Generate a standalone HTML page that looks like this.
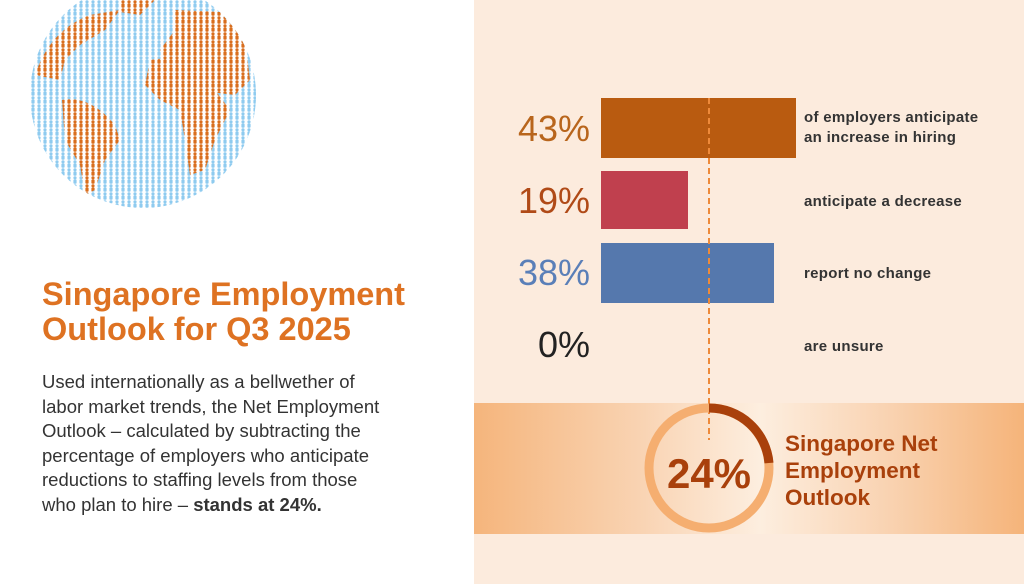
<!DOCTYPE html>
<html><head><meta charset="utf-8"><style>
*{margin:0;padding:0;box-sizing:border-box}
body{width:1024px;height:584px;position:relative;overflow:hidden;font-family:"Liberation Sans",Arial,sans-serif;background:#fff}
.right{position:absolute;left:474px;top:0;width:550px;height:584px;background:#fcebdd}
.band{position:absolute;left:474px;top:403px;width:550px;height:131px;background:linear-gradient(90deg,#f5b57c 0%,#f9d3b2 30%,#fdeedf 52%,#f9d3b2 75%,#f5b47a 100%)}
.title{position:absolute;left:42px;top:277px;font-size:32.5px;font-weight:bold;color:#de7222;line-height:35px}
.body{position:absolute;left:42px;top:370px;font-size:18.5px;color:#333;line-height:24.6px}
.pct{position:absolute;width:200px;right:434px;text-align:right;font-size:36px}
.bar{position:absolute;left:601px}
.lab{position:absolute;left:804px;font-size:15px;font-weight:bold;color:#333;line-height:20px;letter-spacing:0.3px}
</style></head><body>
<svg style="position:absolute;left:0;top:0" width="474" height="230">
<defs>
<pattern id="pb" width="6" height="8" patternUnits="userSpaceOnUse"><circle cx="3" cy="1.8" r="1.6" fill="#8fcbef"/><rect x="1.4" y="3.4" width="3.2" height="4.4" rx="1" fill="#8fcbef"/></pattern>
<pattern id="po" width="6" height="8" patternUnits="userSpaceOnUse"><rect width="6" height="8" fill="#fff"/><circle cx="3" cy="1.8" r="1.6" fill="#d96e1e"/><rect x="1.4" y="3.4" width="3.2" height="4.4" rx="1" fill="#d96e1e"/></pattern>
<clipPath id="c"><circle cx="143" cy="95" r="113"/></clipPath>
</defs>
<circle cx="143" cy="95" r="113" fill="url(#pb)"/>
<g clip-path="url(#c)" fill="url(#po)">
<path d="M35 75 Q50 30 90 15 L120 10 L105 30 L80 45 L65 60 L60 80 Z"/>
<path d="M62 100 Q90 95 115 125 L120 140 L105 160 L95 190 L85 195 L80 165 L65 140 Z"/>
<path d="M175 10 L220 12 L245 40 L250 80 L235 95 L210 92 L195 80 L170 75 L160 50 L175 30 Z"/>
<path d="M150 60 L190 55 L215 90 L230 110 L215 140 L205 170 L190 175 L185 140 L180 110 L160 100 L145 85 Z"/>
<path d="M120 0 L155 0 L140 15 L120 12 Z"/>
</g>
</svg>
<div class="title">Singapore Employment<br>Outlook for Q3 2025</div>
<div class="body">Used internationally as a bellwether of<br>labor market trends, the Net Employment<br>Outlook – calculated by subtracting the<br>percentage of employers who anticipate<br>reductions to staffing levels from those<br>who plan to hire – <b>stands at 24%.</b></div>
<div class="right"></div>
<div class="band"></div>
<div class="bar" style="top:98px;width:195px;height:60px;background:#b95b10"></div>
<div class="bar" style="top:171px;width:87px;height:58px;background:#c0404e"></div>
<div class="bar" style="top:243px;width:173px;height:60px;background:#5578ad"></div>
<div class="pct" style="top:108px;color:#b8651c">43%</div>
<div class="pct" style="top:180px;color:#b04a17">19%</div>
<div class="pct" style="top:252px;color:#5a7fb8">38%</div>
<div class="pct" style="top:324px;color:#222">0%</div>
<div class="lab" style="top:108px">of employers anticipate<br>an increase in hiring</div>
<div class="lab" style="top:192px">anticipate a decrease</div>
<div class="lab" style="top:264px">report no change</div>
<div class="lab" style="top:337px">are unsure</div>
<svg style="position:absolute;left:0;top:0" width="1024" height="584">
<line x1="709" y1="98" x2="709" y2="440" stroke="#ee8a3a" stroke-width="2" stroke-dasharray="6,4"/>
<circle cx="709" cy="468" r="60" fill="none" stroke="#f5ae70" stroke-width="9"/>
<path d="M709 408 A60 60 0 0 1 769 463" fill="none" stroke="#a9400b" stroke-width="9"/>
<text x="709" y="488" text-anchor="middle" font-family="Liberation Sans" font-weight="bold" font-size="42" fill="#a9400b">24%</text>
<text font-family="Liberation Sans" font-weight="bold" font-size="22.5" fill="#a9400b"><tspan x="785" y="451">Singapore Net</tspan><tspan x="785" y="478">Employment</tspan><tspan x="785" y="505">Outlook</tspan></text>
</svg>
</body></html>
